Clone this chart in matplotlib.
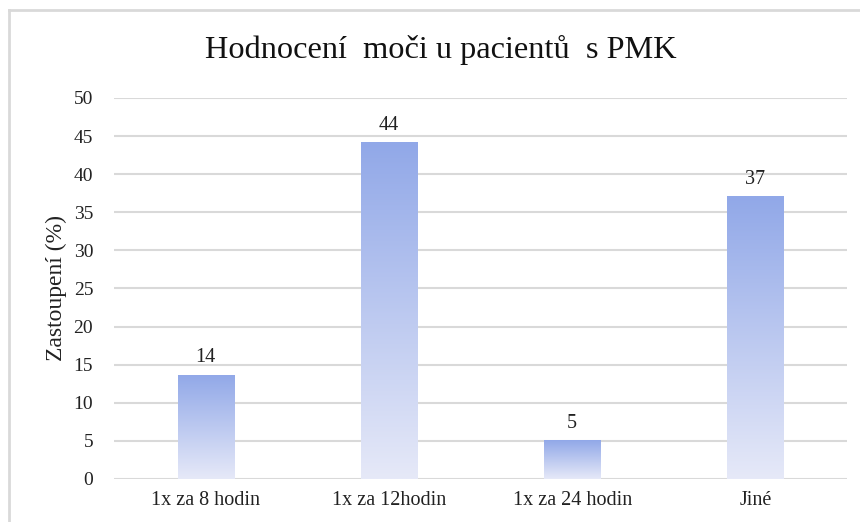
import matplotlib
matplotlib.use("Agg")
import matplotlib.pyplot as plt
import numpy as np
from matplotlib.colors import LinearSegmentedColormap
from matplotlib.lines import Line2D

categories = ["1x za 8 hodin", "1x za 12hodin", "1x za 24 hodin", "Jiné"]
values = [13.7, 44.2, 5.1, 37.1]
labels = ["14", "44", "5", "37"]
yticks = [0, 5, 10, 15, 20, 25, 30, 35, 40, 45, 50]

plt.rcParams['font.family'] = ['Liberation Serif', 'DejaVu Serif']

fig = plt.figure(figsize=(8.6, 5.22), dpi=100)
ax = fig.add_axes([0.1326, 0.0824, 0.8524, 0.7299])

x = np.arange(len(categories))
width = 0.306
bars = ax.bar(x, values, width=width, color='none', edgecolor='none', zorder=3)

cmap = LinearSegmentedColormap.from_list("g", ["#e6e9f8", "#91a8e8"])
grad = np.linspace(0, 1, 256).reshape(-1, 1)
for b in bars:
    x0, y0 = b.get_x(), b.get_y()
    w, h = b.get_width(), b.get_height()
    im = ax.imshow(grad, cmap=cmap, aspect='auto', origin='lower',
                   extent=[x0, x0 + w, y0, y0 + h], zorder=3)
    im.set_clip_path(b)

for xi, v, lab in zip(x, values, labels):
    ax.text(xi, v + 1.0, lab, ha='center', va='bottom', fontsize=14.5, color='#222222')

ax.set_xlim(-0.5, len(categories) - 0.5)
ax.set_ylim(0, 50)
ax.set_yticks(yticks)
ax.set_xticks(x)
ax.set_xticklabels(categories, fontsize=14.5, color='#222222')
ax.tick_params(axis='y', labelsize=14, labelcolor='#222222', length=0, pad=15)
ax.tick_params(axis='x', length=0, pad=9)
ax.yaxis.grid(True, color='#d9d9d9', linewidth=1.5, zorder=0)
ax.set_axisbelow(True)
for s in ax.spines.values():
    s.set_visible(False)
ax.set_ylabel("Zastoupení (%)", fontsize=17, color='#222222', labelpad=5)

fig.text(0.513, 0.905, "Hodnocení  moči u pacientů  s PMK", ha='center', va='center',
         fontsize=23.3, color='#111111')

# chart frame (left and top edges visible)
fig.add_artist(Line2D([0.0105, 0.0105], [0, 0.981], transform=fig.transFigure,
                      color='#d9d9d9', linewidth=2))
fig.add_artist(Line2D([0.0105, 1.0], [0.981, 0.981], transform=fig.transFigure,
                      color='#d9d9d9', linewidth=2))

fig.savefig("out.png", dpi=100, facecolor='white')
